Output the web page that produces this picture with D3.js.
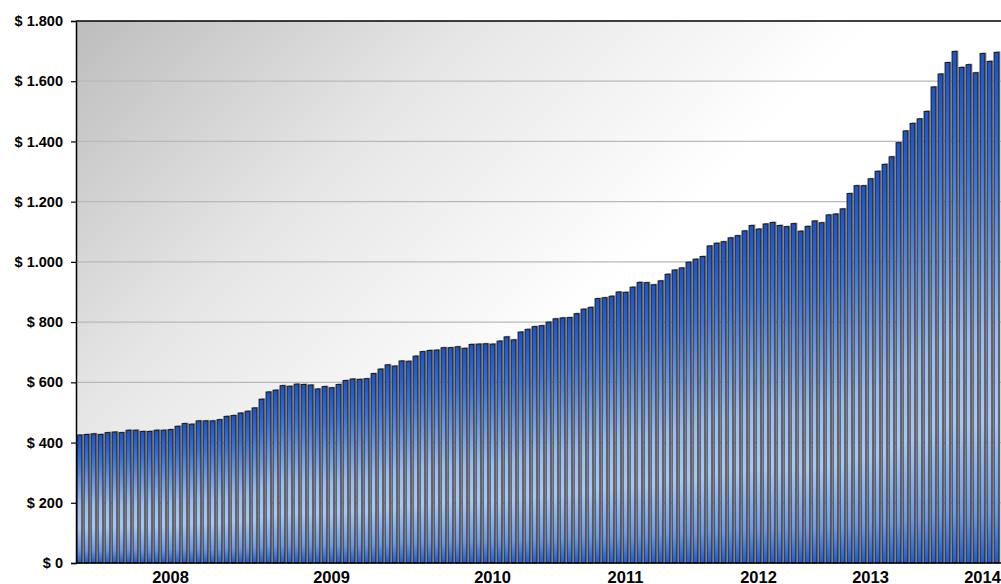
<!DOCTYPE html>
<html>
<head>
<meta charset="utf-8">
<script src="https://cdn.jsdelivr.net/npm/d3@7"></script>
<style>
    html, body { margin: 0; padding: 0; background: #ffffff; }
    svg { display: block; font-family: "Liberation Sans", Arial, sans-serif; }
</style>
</head>
<body>
<svg id="chart" width="1001" height="584"></svg>
<script>
// bar values, one per period (left to right)
const values = [
    425, 427, 429, 427, 433, 435, 433, 441, 441, 437, 437, 441, 441, 443, 454, 463, 461, 472, 472, 472, 476, 487, 490,
    498, 504, 515, 544, 568, 574, 589, 587, 594, 593, 591, 578, 586, 582, 593, 606, 611, 610, 612, 629, 644, 658,
    654, 671, 670, 687, 702, 706, 707, 715, 715, 718, 713, 726, 727, 728, 727, 737, 751, 741, 767, 776, 785, 788,
    800, 811, 814, 815, 828, 843, 849, 878, 881, 886, 900, 899, 916, 932, 931, 924, 937, 959, 973, 980, 999, 1009,
    1018, 1053, 1062, 1067, 1080, 1087, 1103, 1121, 1109, 1126, 1131, 1121, 1117, 1127, 1102, 1118, 1136, 1130, 1156, 1159, 1176, 1227,
    1253, 1253, 1276, 1301, 1324, 1349, 1396, 1435, 1460, 1475, 1500, 1581, 1624, 1662, 1699, 1646, 1655, 1628, 1692, 1666, 1696
];
// year labels and the bar index each one sits under
const yearLabels = ['2008', '2009', '2010', '2011', '2012', '2013', '2014'];
const yearLabelIdx = [13, 36, 59, 78, 97, 113, 129];
const yTicks = [0, 200, 400, 600, 800, 1000, 1200, 1400, 1600, 1800];

const svg = d3.select('#chart');
const plotLeft = 76, plotTop = 21, plotBottom = 563, plotRight = 1000;

const x = d3.scaleBand()
    .domain(d3.range(values.length))
    .range([plotLeft, plotRight])
    .paddingInner(0.3)
    .paddingOuter(0.15);
const y = d3.scaleLinear().domain([0, 1800]).range([plotBottom, plotTop]);

const fmt = function (v) {
    return '$ ' + d3.format(',')(v).replace(/,/g, '.');
};

const defs = svg.append('defs');
const bg = defs.append('linearGradient')
    .attr('id', 'bg')
    .attr('gradientUnits', 'userSpaceOnUse')
    .attr('x1', plotLeft).attr('y1', plotTop)
    .attr('x2', plotLeft + 400).attr('y2', plotTop + 400);
bg.append('stop').attr('offset', 0).attr('stop-color', '#bdbdbd');
bg.append('stop').attr('offset', 0.5).attr('stop-color', '#e6e6e6');
bg.append('stop').attr('offset', 1).attr('stop-color', '#ffffff');

const barGrad = defs.append('linearGradient')
    .attr('id', 'barfill')
    .attr('x1', 0).attr('y1', 0).attr('x2', 0).attr('y2', 1);
[[0, '#1c55c4'], [0.2, '#3a72d6'], [0.55, '#9cbaec'], [0.72, '#aac6f0'], [0.9, '#6e98e2'], [1, '#205ccc']]
    .forEach(function (s) {
        barGrad.append('stop').attr('offset', s[0]).attr('stop-color', s[1]);
    });

// plot background
svg.append('rect')
    .attr('x', plotLeft).attr('y', plotTop)
    .attr('width', 1001 - plotLeft).attr('height', plotBottom - plotTop)
    .attr('fill', 'url(#bg)');

// gridlines
svg.append('g')
    .selectAll('line')
    .data(yTicks.filter(d => d > 0 && d < 1800))
    .enter()
    .append('line')
    .attr('x1', plotLeft).attr('x2', 1001)
    .attr('y1', d => y(d)).attr('y2', d => y(d))
    .attr('stroke', '#b8b8b8')
    .attr('stroke-width', 1.2);

// bar shadows
svg.append('g')
    .selectAll('rect')
    .data(values)
    .enter()
    .append('rect')
    .attr('x', (d, i) => x(i) + 1.5)
    .attr('y', d => y(d) - 1)
    .attr('width', x.bandwidth())
    .attr('height', d => plotBottom - y(d) + 1)
    .attr('fill', '#9a9a9a');

// bars
svg.append('g')
    .selectAll('rect')
    .data(values)
    .enter()
    .append('rect')
    .attr('x', (d, i) => x(i))
    .attr('y', d => y(d))
    .attr('width', x.bandwidth())
    .attr('height', d => plotBottom - y(d))
    .attr('fill', 'url(#barfill)')
    .attr('stroke', '#111111')
    .attr('stroke-width', 0.9);

// top border
svg.append('line')
    .attr('x1', plotLeft).attr('x2', 1001)
    .attr('y1', plotTop).attr('y2', plotTop)
    .attr('stroke', '#000').attr('stroke-width', 1.5);

// y axis
const yAxis = svg.append('g')
    .attr('transform', 'translate(' + plotLeft + ',0)')
    .call(d3.axisLeft(y).tickValues(yTicks).tickSize(5).tickPadding(8).tickFormat(fmt));
yAxis.select('.domain').attr('stroke', '#000').attr('stroke-width', 1.5);
yAxis.selectAll('.tick line').attr('stroke', '#000').attr('stroke-width', 1.2);
yAxis.selectAll('.tick text')
    .attr('fill', '#000')
    .style('font-family', '"Liberation Sans", Arial, sans-serif')
    .style('font-weight', 'bold')
    .style('font-size', '14.5px');

// x axis line
svg.append('line')
    .attr('x1', plotLeft).attr('x2', 1001)
    .attr('y1', plotBottom).attr('y2', plotBottom)
    .attr('stroke', '#000').attr('stroke-width', 1.5);

// year labels
svg.append('g')
    .selectAll('text')
    .data(yearLabels)
    .enter()
    .append('text')
    .attr('x', (d, i) => x(yearLabelIdx[i]) + x.bandwidth() / 2)
    .attr('y', 582.5)
    .attr('text-anchor', 'middle')
    .style('font-weight', 'bold')
    .style('font-size', '16.5px')
    .style('fill', '#000')
    .text(d => d);
</script>
</body>
</html>
